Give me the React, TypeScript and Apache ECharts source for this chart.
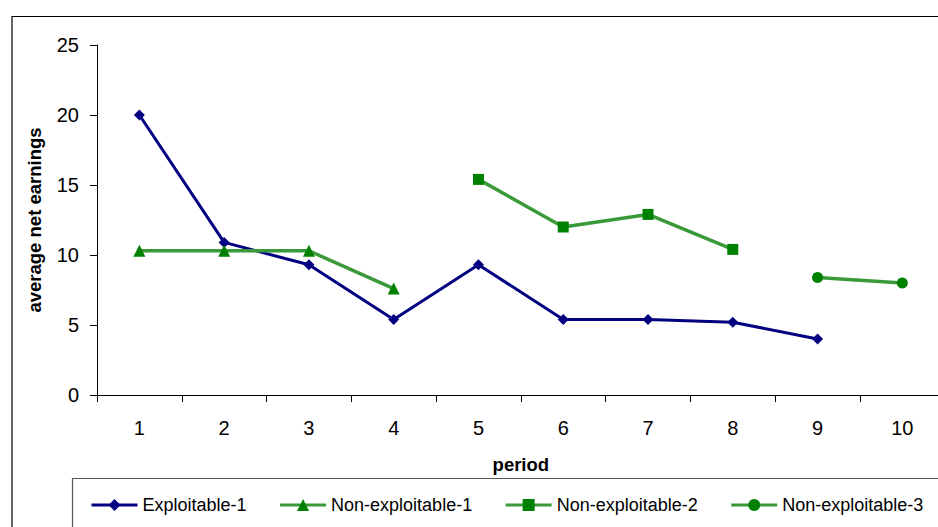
import React, { useEffect, useRef } from "react";
import * as echarts from "echarts";

const periods = ["1", "2", "3", "4", "5", "6", "7", "8", "9", "10"];
const exploitable1 = [20.0, 10.9, 9.3, 5.4, 9.3, 5.4, 5.4, 5.2, 4.0, null];
const nonExploitable1 = [10.3, 10.3, 10.3, 7.6, null, null, null, null, null, null];
const nonExploitable2 = [null, null, null, null, 15.4, 12.0, 12.9, 10.4, null, null];
const nonExploitable3 = [null, null, null, null, null, null, null, null, 8.4, 8.0];

const FONT = "'Liberation Sans', Arial, sans-serif";

export default function App() {
  const ref = useRef<HTMLDivElement>(null);
  useEffect(() => {
    if (!ref.current) return;
    const chart = echarts.init(ref.current, null, { renderer: "svg" });
    const greenLine = { color: "#3a9a3a", width: 3.5 };
    chart.setOption({
      animation: false,
      backgroundColor: "#ffffff",
      textStyle: { fontFamily: FONT },
      graphic: [
        {
          type: "rect",
          shape: { x: 12, y: 16.5, width: 1000, height: 700 },
          style: { fill: "none", stroke: "#000", lineWidth: 1.2 },
          z: -10,
        },
        {
          type: "rect",
          shape: { x: 72.5, y: 478.5, width: 1000, height: 200 },
          style: { fill: "none", stroke: "#555", lineWidth: 1.2 },
          z: -10,
        },
      ],
      grid: {
        left: 97,
        top: 45,
        width: 847.7,
        height: 350,
        outerBoundsMode: "none",
        containLabel: false,
      },
      legend: {
        left: 85,
        top: 491,
        itemWidth: 46,
        itemHeight: 15,
        itemGap: 32,
        lineStyle: { width: 3 },
        textStyle: { fontFamily: FONT, fontSize: 18, color: "#000" },
        data: ["Exploitable-1", "Non-exploitable-1", "Non-exploitable-2", "Non-exploitable-3"],
      },
      xAxis: {
        type: "category",
        data: periods,
        boundaryGap: true,
        name: "period",
        nameLocation: "middle",
        nameGap: 60,
        nameTextStyle: { fontFamily: FONT, fontSize: 18.5, fontWeight: "bold", color: "#000" },
        axisLine: { lineStyle: { color: "#000", width: 1 } },
        axisTick: { show: true, length: 7, lineStyle: { color: "#000" } },
        axisLabel: { margin: 23, fontSize: 20, color: "#000", fontFamily: FONT },
        splitLine: { show: false },
      },
      yAxis: {
        type: "value",
        min: 0,
        max: 25,
        interval: 5,
        name: "average net earnings",
        nameLocation: "middle",
        nameGap: 53,
        nameTextStyle: { fontFamily: FONT, fontSize: 18.5, fontWeight: "bold", color: "#000" },
        axisLine: { show: true, lineStyle: { color: "#000", width: 1 } },
        axisTick: { show: true, length: 7, lineStyle: { color: "#000" } },
        axisLabel: { margin: 18, fontSize: 20, color: "#000", fontFamily: FONT },
        splitLine: { show: false },
      },
      series: [
        {
          name: "Exploitable-1",
          type: "line",
          data: exploitable1,
          symbol: "diamond",
          symbolSize: 11,
          lineStyle: { color: "#000080", width: 3 },
          itemStyle: { color: "#000080" },
        },
        {
          name: "Non-exploitable-1",
          type: "line",
          data: nonExploitable1,
          symbol: "triangle",
          symbolSize: 12,
          lineStyle: greenLine,
          itemStyle: { color: "#008000" },
        },
        {
          name: "Non-exploitable-2",
          type: "line",
          data: nonExploitable2,
          symbol: "rect",
          symbolSize: 11,
          lineStyle: greenLine,
          itemStyle: { color: "#008000" },
        },
        {
          name: "Non-exploitable-3",
          type: "line",
          data: nonExploitable3,
          symbol: "circle",
          symbolSize: 11,
          lineStyle: greenLine,
          itemStyle: { color: "#008000" },
        },
      ],
    });
    return () => chart.dispose();
  }, []);
  return (
    <div
      ref={ref}
      style={{ position: "fixed", left: 0, top: 0, width: 938, height: 527 }}
    />
  );
}
